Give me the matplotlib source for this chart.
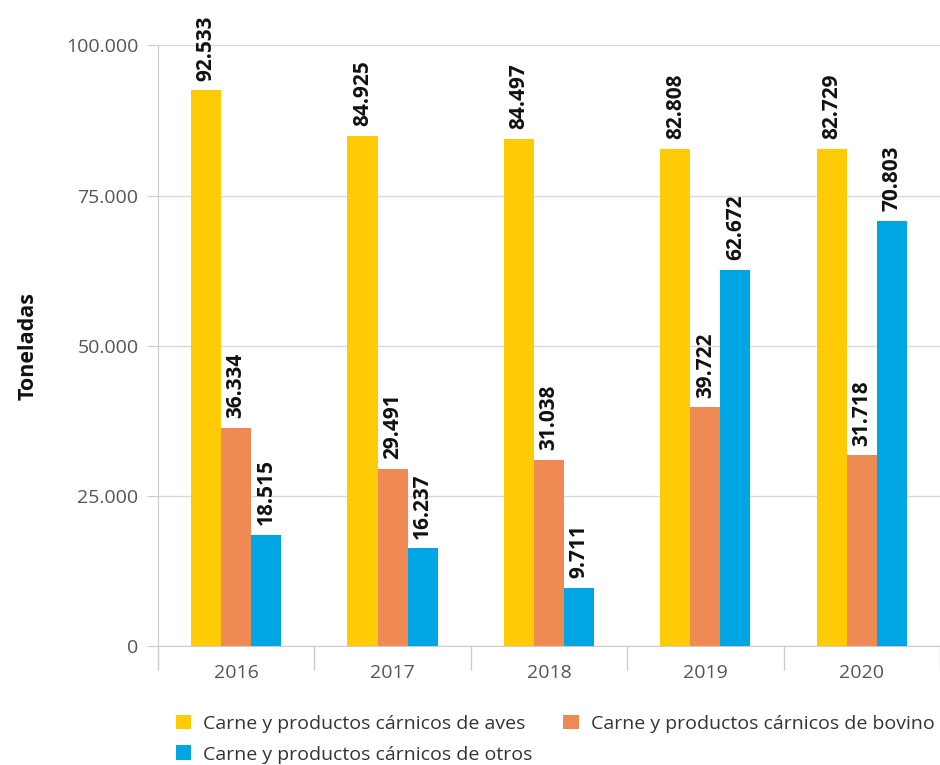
import matplotlib.pyplot as plt
import numpy as np
from matplotlib.ticker import FuncFormatter

plt.rcParams['font.family'] = ['Open Sans', 'DejaVu Sans']

years = ['2016', '2017', '2018', '2019', '2020']
aves = [92533, 84925, 84497, 82808, 82729]
bovino = [36334, 29491, 31038, 39722, 31718]
otros = [18515, 16237, 9711, 62672, 70803]

series = [
    ('Carne y productos cárnicos de aves', aves, '#FFCB05'),
    ('Carne y productos cárnicos de bovino', bovino, '#F08A55'),
    ('Carne y productos cárnicos de otros', otros, '#00A6E3'),
]

fig = plt.figure(figsize=(9.4, 7.65), dpi=100)
ax = fig.add_axes([0.168, 0.1556, 0.832, 0.785])

x = np.arange(len(years))
w = 0.192
handles = []
for i, (name, vals, color) in enumerate(series):
    pos = x + (i - 1) * w
    b = ax.bar(pos, vals, width=w, color=color, label=name, zorder=3)
    handles.append(b)
    for px, v in zip(pos, vals):
        txt = f'{v:,}'.replace(',', '.')
        ax.annotate(txt, (px, v), xytext=(0, 7), textcoords='offset points',
                    rotation=90, ha='center', va='bottom', fontsize=15,
                    fontweight='bold', color='#111111', annotation_clip=False)

ax.set_xlim(-0.5, 4.5)
ax.set_ylim(0, 100000)
ax.set_yticks([0, 25000, 50000, 75000, 100000])
ax.yaxis.set_major_formatter(FuncFormatter(lambda v, p: f'{int(v):,}'.replace(',', '.')))
ax.grid(axis='y', color='#d9d9d9', linewidth=1, zorder=0)

# category boundaries as ticks, labels at centers
ax.set_xticks(np.arange(-0.5, 5, 1))
ax.set_xticklabels([])
ax.set_xticks(x, minor=True)
ax.set_xticklabels(years, minor=True)
ax.tick_params(axis='x', which='major', length=17, color='#cccccc', width=1)
ax.tick_params(axis='x', which='minor', length=12, direction='in', color='#cccccc',
               labelsize=14, labelcolor='#555555', pad=13)
ax.tick_params(axis='y', length=8, color='#cccccc', labelsize=14, labelcolor='#555555', pad=6)

for s in ['top', 'right']:
    ax.spines[s].set_visible(False)
ax.spines['left'].set_color('#cccccc')
ax.spines['bottom'].set_color('#cccccc')

ax.set_ylabel('Toneladas', fontsize=15.5, fontweight='bold', color='#111111', labelpad=20)

# row-wise order: aves, bovino / otros
order = [0, 2, 1]
fig.legend([handles[i] for i in order], [series[i][0] for i in order],
           loc='upper left', bbox_to_anchor=(0.187, 0.066), ncol=2, frameon=False,
           fontsize=14, handlelength=0.8, handleheight=0.8, handletextpad=0.6,
           columnspacing=1.6, labelspacing=0.65, borderaxespad=0, borderpad=0,
           labelcolor='#333333')

fig.savefig('out.png', dpi=100)
